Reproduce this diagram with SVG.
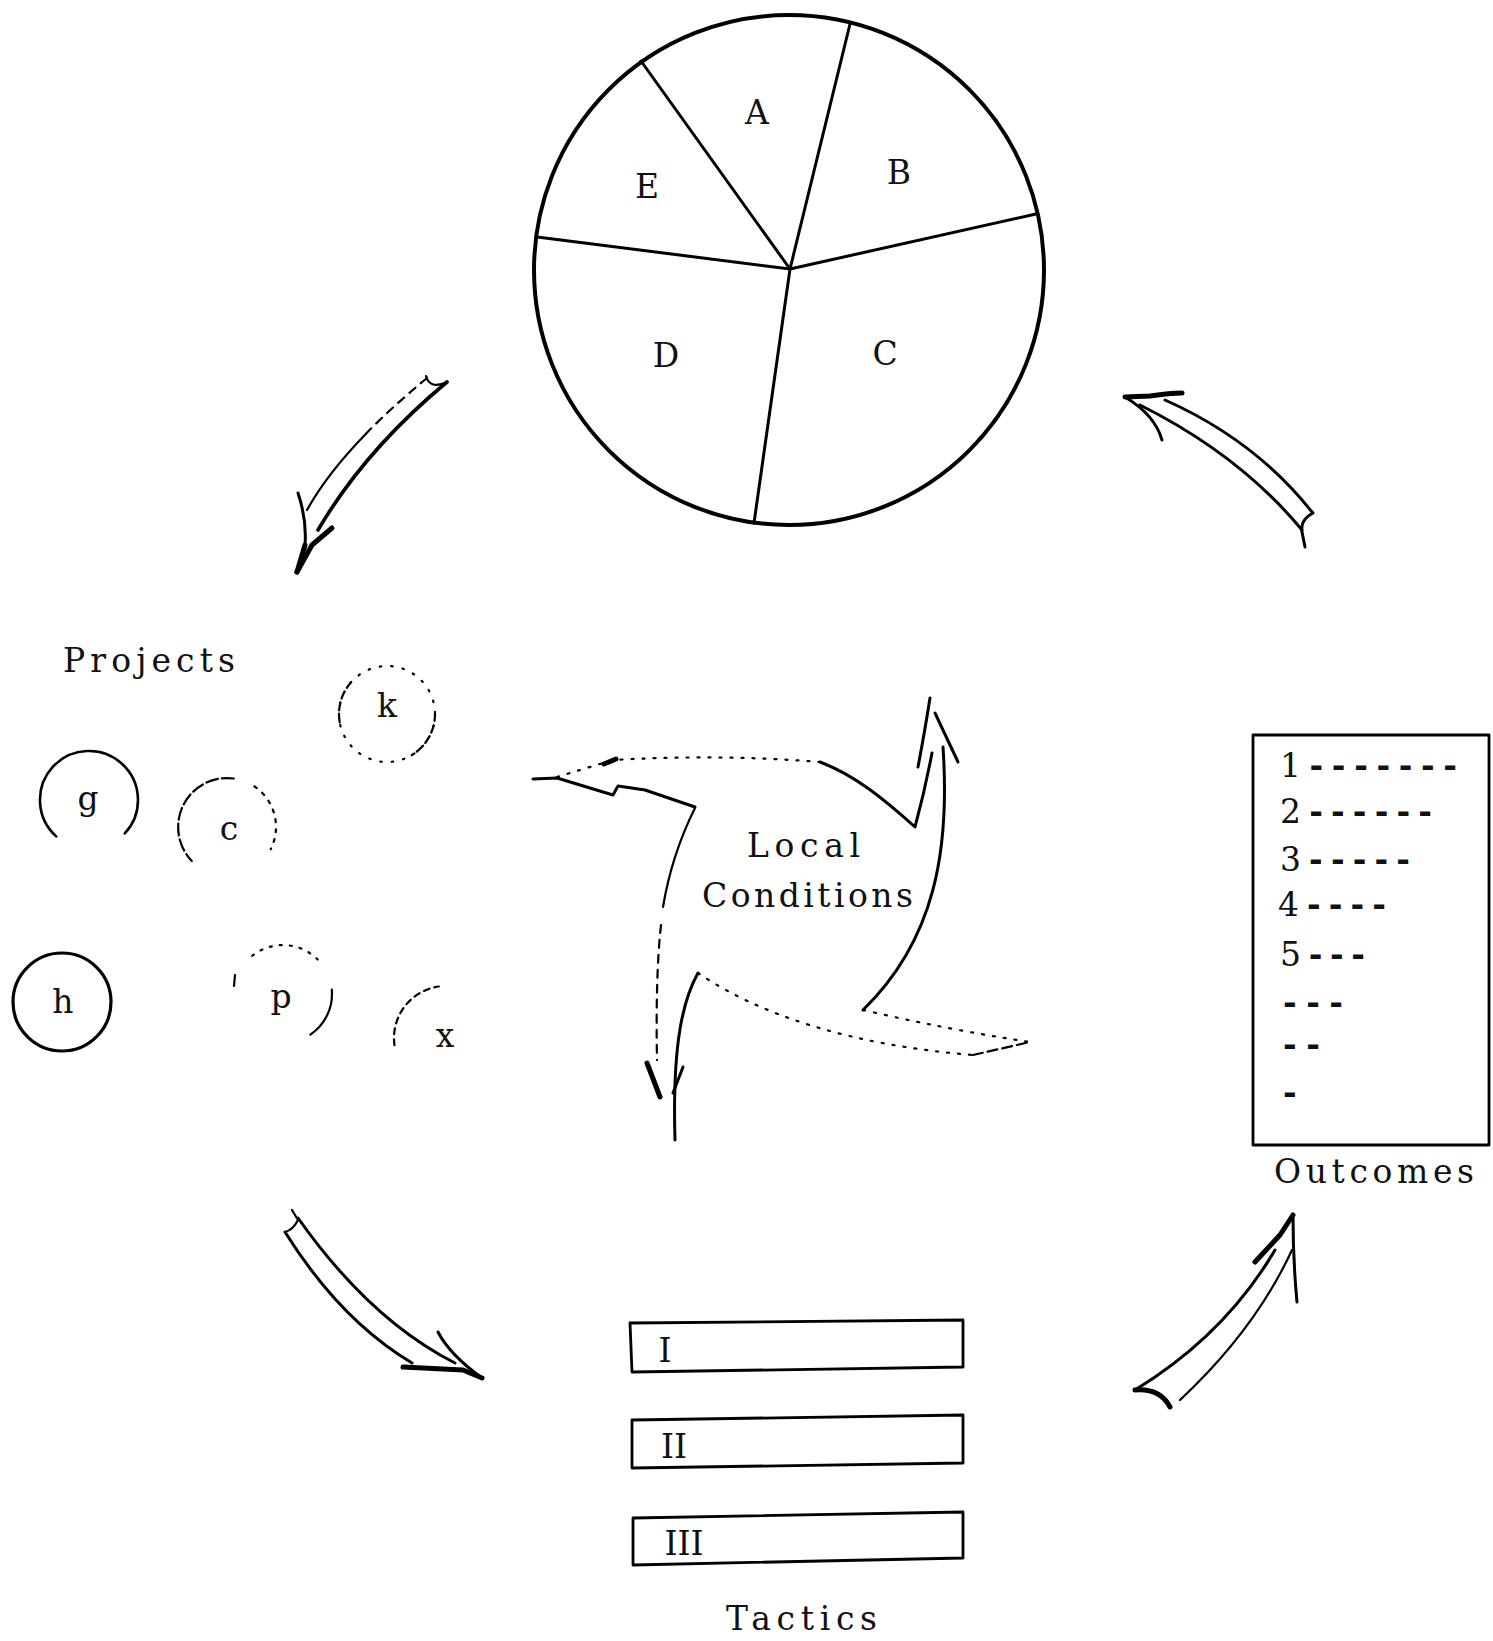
<svg xmlns="http://www.w3.org/2000/svg" width="1493" height="1641" viewBox="0 0 1493 1641">
<style>
.ink{fill:none;stroke:#000;stroke-width:3;stroke-linecap:round;stroke-linejoin:round}
.thin{stroke-width:2.2}
.thick{stroke-width:5}
.dot{stroke-dasharray:2 9}
.dash{stroke-dasharray:8 7}
.t{font-family:"DejaVu Serif","Liberation Serif",serif;font-size:33px;fill:#111}
.m{text-anchor:middle}
.d{font-weight:bold}
</style>
<rect width="1493" height="1641" fill="#fff"/>

<g id="pie">
  <circle cx="789" cy="270" r="255" class="ink" style="stroke-width:4"/>
  <path class="ink" d="M790,269 L641,61 M790,269 L850,24 M790,269 L1036,214 M790,269 L754,523 M790,269 L537,237"/>
  <text class="t m" x="757" y="124">A</text>
  <text class="t m" x="899" y="184">B</text>
  <text class="t m" x="885" y="365">C</text>
  <text class="t m" x="666" y="367">D</text>
  <text class="t m" x="647" y="198">E</text>
</g>

<g id="projects">
  <text class="t" x="63" y="672" textLength="172" lengthAdjust="spacing">Projects</text>
  <g id="proj-k">
    <circle cx="387" cy="714" r="48" class="ink thin" style="stroke-dasharray:1.5 10"/>
    <path class="ink thin" d="M339.7,722.3 A48,48 0 0 1 354.3,678.9 M435,714 A48,48 0 0 1 411.7,755.1" style="stroke-dasharray:7 5"/>
    <text class="t m" x="387" y="717">k</text>
  </g>
  <g id="proj-g">
    <path class="ink" d="M56.2,836.4 A49,49 0 1 1 124.8,833.4" style="stroke-width:2.6"/>
    <text class="t m" x="88" y="810">g</text>
  </g>
  <g id="proj-c">
    <path class="ink thin" d="M233.8,778.5 A49,49 0 0 0 191.8,861" style="stroke-dasharray:12 4"/>
    <path class="ink thin" d="M254.4,786.4 A49,49 0 0 1 270.7,849.2" style="stroke-dasharray:3 7"/>
    <text class="t m" x="229" y="840">c</text>
  </g>
  <g id="proj-h">
    <circle cx="62" cy="1002" r="49" class="ink" style="stroke-width:3.2"/>
    <text class="t m" x="63" y="1013">h</text>
  </g>
  <g id="proj-p">
    <path class="ink thin" d="M331.8,989.7 A49,49 0 0 1 310.4,1034.6"/>
    <path class="ink thin" d="M252.2,955.9 A49,49 0 0 1 317.6,959.4" style="stroke-dasharray:2 8"/>
    <path class="ink thin" d="M235,975 L234,986"/>
    <text class="t m" x="281" y="1008">p</text>
  </g>
  <g id="proj-x">
    <path class="ink thin" d="M394.5,1045.2 A52,52 0 0 1 438.8,986.5" style="stroke-dasharray:6 5"/>
    <text class="t m" x="445" y="1047">x</text>
  </g>
</g>

<g id="local-conditions">
  <path class="ink" d="M533,779 L557,778 L613,795 L618,786 L645,790 L695,807"/>
  <path class="ink thin" d="M695,808 C684,830 670,865 663,907"/>
  <path class="ink thin dash" d="M661,925 C657,960 656,1010 657,1060"/>
  <path class="ink thick" d="M647,1063 L660,1097"/>
  <path class="ink" d="M683,1067 L673,1093"/>
  <path class="ink" d="M698,973 C684,998 672,1040 675,1140"/>
  <path class="ink thin dot" d="M698,973 C760,1015 850,1045 973,1055"/>
  <path class="ink thin" d="M973,1055 L1030,1042" style="stroke-dasharray:10 5"/>
  <path class="ink thin dot" d="M863,1010 Q950,1030 1030,1042"/>
  <path class="ink" d="M943,747 C950,850 935,940 863,1010"/>
  <path class="ink" d="M820,762 C855,775 885,800 915,827 Q925,790 932,753"/>
  <path class="ink" d="M918,767 Q925,730 930,698"/>
  <path class="ink" d="M935,713 L958,762"/>
  <path class="ink thin dot" d="M557,777 L613,760 Q720,754 820,762"/>
  <path class="ink thick" d="M604,764 L616,759"/>
  <text class="t" x="747" y="857" textLength="113" lengthAdjust="spacing">Local</text>
  <text class="t" x="702" y="907" textLength="211" lengthAdjust="spacing">Conditions</text>
</g>

<g id="outcomes">
  <rect x="1253" y="735" width="236" height="410" class="ink" style="stroke-width:2.8"/>
  <text class="t" x="1280" y="777" textLength="177" lengthAdjust="spacing">1<tspan class="d">-------</tspan></text>
  <text class="t" x="1280" y="823" textLength="152" lengthAdjust="spacing">2<tspan class="d">------</tspan></text>
  <text class="t" x="1280" y="871" textLength="130" lengthAdjust="spacing">3<tspan class="d">-----</tspan></text>
  <text class="t" x="1278" y="916" textLength="108" lengthAdjust="spacing">4<tspan class="d">----</tspan></text>
  <text class="t" x="1280" y="966" textLength="85" lengthAdjust="spacing">5<tspan class="d">---</tspan></text>
  <text class="t d" x="1283" y="1014" textLength="60" lengthAdjust="spacing">---</text>
  <text class="t d" x="1283" y="1056" textLength="37" lengthAdjust="spacing">--</text>
  <text class="t d" x="1283" y="1104">-</text>
  <text class="t" x="1274" y="1183" textLength="200" lengthAdjust="spacing">Outcomes</text>
</g>

<g id="tactics">
  <polygon class="ink" points="630,1323 963,1320 963,1367 632,1372" style="stroke-width:2.8"/>
  <polygon class="ink" points="632,1420 963,1415 963,1463 632,1468" style="stroke-width:2.8"/>
  <polygon class="ink" points="633,1518 963,1512 963,1558 633,1565" style="stroke-width:2.8"/>
  <text class="t m" x="665" y="1362">I</text>
  <text class="t m" x="674" y="1458">II</text>
  <text class="t m" x="684" y="1555">III</text>
  <text class="t" x="726" y="1630" textLength="151" lengthAdjust="spacing">Tactics</text>
</g>

<g id="connectors">
  <g id="arrow-pie-projects">
    <path class="ink thin dash" d="M427,378 Q392.2,406.8 366,433.7"/>
    <path class="ink thin" d="M366,433.7 Q326.8,474 307,510"/>
    <path class="ink" d="M447,382 Q365,450 318,530" style="stroke-width:3.6"/>
    <path class="ink thin" d="M426,376 Q430,390 447,382"/>
    <path class="ink" d="M298,493 Q307,520 305,545"/>
    <path class="ink thick" d="M332,528 L312,545 L297,572"/>
    <path class="ink thick" d="M305,545 L297,572"/>
  </g>
  <g id="arrow-projects-tactics">
    <path class="ink" d="M298,1218 Q370,1320 455,1363"/>
    <path class="ink" d="M285,1232 Q340,1320 412,1363"/>
    <path class="ink thin" d="M292,1210 L298,1220 Q293,1230 285,1232"/>
    <path class="ink" d="M438,1332 Q450,1355 482,1378"/>
    <path class="ink thick" d="M403,1367 L463,1370 L482,1378"/>
  </g>
  <g id="arrow-tactics-outcomes">
    <path class="ink" d="M1135,1390 Q1225,1335 1275,1250"/>
    <path class="ink thin" d="M1180,1400 Q1255,1330 1292,1250"/>
    <path class="ink thick" d="M1255,1262 L1280,1235 L1293,1215"/>
    <path class="ink" d="M1293,1215 Q1293,1260 1297,1302"/>
    <path class="ink thick" d="M1135,1390 Q1160,1388 1170,1407"/>
  </g>
  <g id="arrow-outcomes-pie">
    <path class="ink thick" d="M1125,397 L1150,396 Q1170,393 1182,393"/>
    <path class="ink" d="M1165,400 Q1255,440 1312,512"/>
    <path class="ink" d="M1140,405 Q1240,455 1302,530"/>
    <path class="ink" d="M1125,397 Q1155,415 1162,440"/>
    <path class="ink" d="M1313,513 Q1300,520 1302,532 L1305,547"/>
  </g>
</g>
</svg>
